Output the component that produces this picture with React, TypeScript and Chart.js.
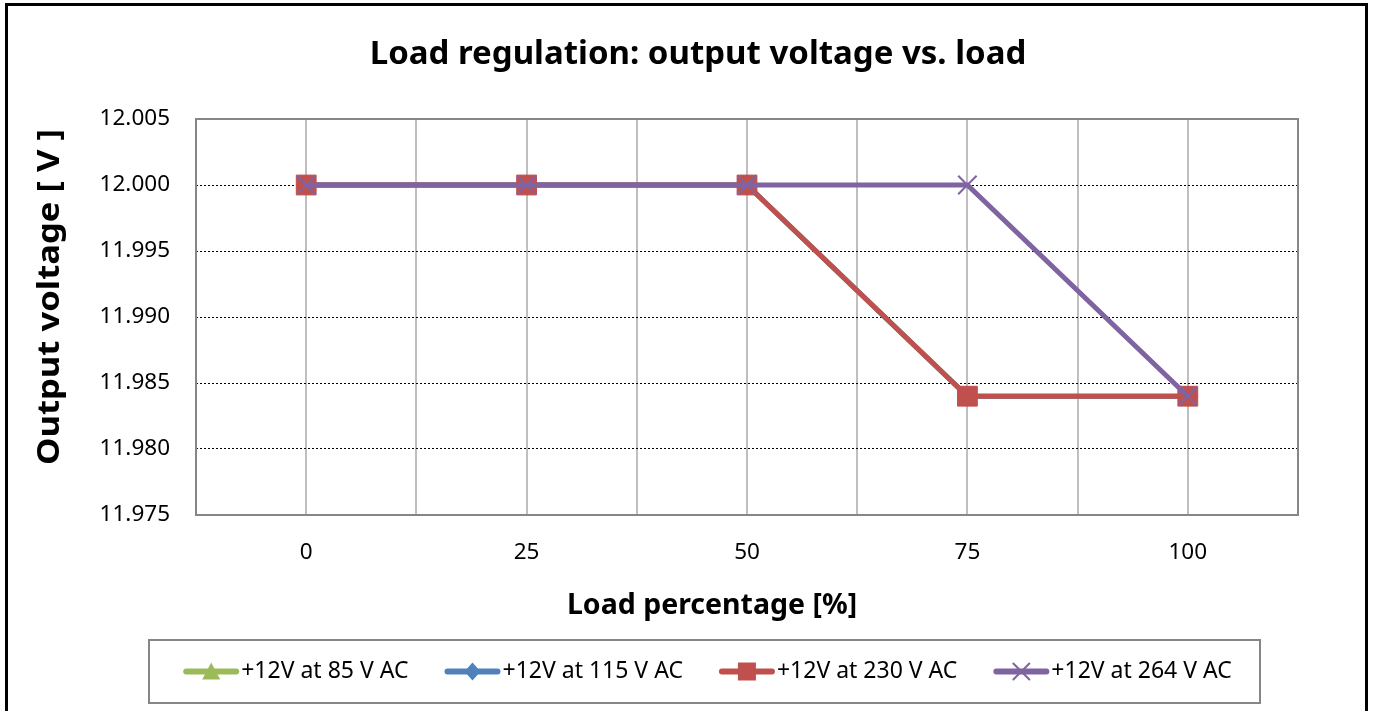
import React, { useEffect, useRef } from 'react';
import { Chart, registerables } from 'chart.js';

Chart.register(...registerables);

// ---- data ----
const loadPercent = [0, 25, 50, 75, 100];
const volt85 = [12.0, 12.0, 12.0, 11.984, 11.984];
const volt115 = [12.0, 12.0, 12.0, 11.984, 11.984];
const volt230 = [12.0, 12.0, 12.0, 11.984, 11.984];
const volt264 = [12.0, 12.0, 12.0, 12.0, 11.984];
const seriesLabels = ['+12V at 85 V AC', '+12V at 115 V AC', '+12V at 230 V AC', '+12V at 264 V AC'];
const seriesColors = ['#9bbb59', '#4f81bd', '#c0504d', '#8064a2'];
const seriesMarkers = ['triangle', 'rectRot', 'rect', 'crossRot'];
const labeledXTicks = [0, 25, 50, 75, 100];
const yMin = 11.975;
const yMax = 12.005;
const yStep = 0.005;
const xMin = -12.5;
const xMax = 112.5;
const xStep = 12.5;

const chartTitle = 'Load regulation: output voltage vs. load';
const xTitle = 'Load percentage [%]';
const yTitle = 'Output voltage [ V ]';

const FONT = '"Noto Sans", sans-serif';

function drawMarker(ctx: CanvasRenderingContext2D, style: string, x: number, y: number, color: string) {
  ctx.save();
  ctx.fillStyle = color;
  ctx.strokeStyle = color;
  ctx.beginPath();
  if (style === 'triangle') {
    ctx.moveTo(x, y - 9);
    ctx.lineTo(x + 9, y + 8);
    ctx.lineTo(x - 9, y + 8);
    ctx.closePath();
    ctx.fill();
  } else if (style === 'rectRot') {
    ctx.moveTo(x, y - 9);
    ctx.lineTo(x + 8, y);
    ctx.lineTo(x, y + 9);
    ctx.lineTo(x - 8, y);
    ctx.closePath();
    ctx.fill();
  } else if (style === 'rect') {
    ctx.rect(x - 9, y - 9, 18, 18);
    ctx.fill();
  } else {
    ctx.lineWidth = 2;
    ctx.moveTo(x - 8, y - 8);
    ctx.lineTo(x + 8, y + 8);
    ctx.moveTo(x + 8, y - 8);
    ctx.lineTo(x - 8, y + 8);
    ctx.stroke();
  }
  ctx.restore();
}

const decorPlugin = {
  id: 'decor',
  beforeDraw(chart: any) {
    const ctx = chart.ctx as CanvasRenderingContext2D;
    ctx.save();
    ctx.fillStyle = '#ffffff';
    ctx.fillRect(0, 0, chart.width, chart.height);
    ctx.restore();
  },
  beforeDatasetsDraw(chart: any) {
    const ctx = chart.ctx as CanvasRenderingContext2D;
    const a = chart.chartArea;
    ctx.save();
    ctx.strokeStyle = '#868686';
    ctx.lineWidth = 2;
    ctx.strokeRect(a.left, a.top, a.right - a.left, a.bottom - a.top);
    ctx.restore();
  },
  afterDraw(chart: any) {
    const ctx = chart.ctx as CanvasRenderingContext2D;
    ctx.save();
    // outer frame
    ctx.strokeStyle = '#000';
    ctx.lineWidth = 3;
    ctx.strokeRect(6.5, 4.5, 1360, 760);

    // titles
    ctx.fillStyle = '#000';
    ctx.textAlign = 'center';
    ctx.textBaseline = 'middle';
    ctx.font = `bold 33px ${FONT}`;
    ctx.fillText(chartTitle, 698, 55);
    ctx.font = `bold 28.5px ${FONT}`;
    ctx.fillText(xTitle, 712, 606);
    ctx.save();
    ctx.translate(50, 297);
    ctx.rotate(-Math.PI / 2);
    ctx.font = `bold 31px ${FONT}`;
    const tw = ctx.measureText(yTitle).width;
    const targetW = 336;
    ctx.scale(targetW / tw, 1);
    ctx.fillText(yTitle, 0, 0);
    ctx.restore();

    // legend
    const boxL = 149, boxT = 640, boxR = 1260, boxB = 703;
    ctx.strokeStyle = '#868686';
    ctx.lineWidth = 2;
    ctx.strokeRect(boxL, boxT, boxR - boxL, boxB - boxT);
    ctx.font = `23px ${FONT}`;
    const lineLen = 56, textGap = 2, itemGap = 36;
    const widths = seriesLabels.map((l) => ctx.measureText(l).width);
    const total = widths.reduce((s, w) => s + lineLen + textGap + w, 0) + itemGap * (seriesLabels.length - 1);
    let x = (boxL + boxR) / 2 + 3 - total / 2;
    const cy = (boxT + boxB) / 2;
    seriesLabels.forEach((label, i) => {
      ctx.strokeStyle = seriesColors[i];
      ctx.lineWidth = 6;
      ctx.lineCap = 'round';
      ctx.beginPath();
      ctx.moveTo(x + 3, cy);
      ctx.lineTo(x + lineLen - 3, cy);
      ctx.stroke();
      drawMarker(ctx, seriesMarkers[i], x + lineLen / 2, cy, seriesColors[i]);
      ctx.fillStyle = '#000';
      ctx.textAlign = 'left';
      ctx.textBaseline = 'middle';
      ctx.fillText(label, x + lineLen + textGap, cy);
      x += lineLen + textGap + widths[i] + itemGap;
    });
    ctx.restore();
  },
};

export default function App() {
  const canvasRef = useRef<HTMLCanvasElement | null>(null);

  useEffect(() => {
    if (!canvasRef.current) return;
    const seriesValues = [volt85, volt115, volt230, volt264];
    const radii = [10, 10, 14, 13];
    const datasets = seriesValues.map((vals, i) => ({
      label: seriesLabels[i],
      data: vals.map((v, j) => ({ x: loadPercent[j], y: v })),
      borderColor: seriesColors[i],
      backgroundColor: seriesColors[i],
      borderWidth: 5,
      pointStyle: seriesMarkers[i] as any,
      pointRadius: radii[i],
      pointBackgroundColor: seriesColors[i],
      pointBorderColor: seriesColors[i],
      pointBorderWidth: i === 3 ? 2 : 1,
      tension: 0,
      fill: false,
      order: seriesValues.length - 1 - i,
    }));

    const isEdgeY = (v: number) => Math.abs(v - yMin) < 1e-9 || Math.abs(v - yMax) < 1e-9;

    const chart = new Chart(canvasRef.current, {
      type: 'line',
      data: { datasets },
      options: {
        animation: false,
        responsive: true,
        maintainAspectRatio: false,
        layout: { padding: { left: 96, right: 75, top: 119, bottom: 136 } },
        plugins: {
          legend: { display: false },
          title: { display: false },
          tooltip: { enabled: false },
        },
        scales: {
          x: {
            type: 'linear',
            min: xMin,
            max: xMax,
            afterFit: (s: any) => { s.height = 60; },
            ticks: {
              stepSize: xStep,
              autoSkip: false,
              maxRotation: 0,
              padding: 24,
              color: '#000',
              font: { family: FONT, size: 22.5 },
              callback: (v: any) => (labeledXTicks.includes(Number(v)) ? String(v) : ''),
            },
            grid: { color: '#bfbfbf', lineWidth: 2, drawTicks: false },
            border: { display: false },
          },
          y: {
            type: 'linear',
            min: yMin,
            max: yMax,
            afterFit: (s: any) => { s.width = 100; },
            ticks: {
              stepSize: yStep,
              padding: 26,
              color: '#000',
              font: { family: FONT, size: 22.5 },
              callback: (v: any) => Number(v).toFixed(3),
            },
            grid: {
              color: (c: any) => (c.tick && isEdgeY(c.tick.value) ? 'rgba(0,0,0,0)' : '#000'),
              lineWidth: 1,
              drawTicks: false,
            },
            border: { display: false, dash: [2, 2] },
          },
        },
      },
      plugins: [decorPlugin],
    });
    return () => chart.destroy();
  }, []);

  return (
    <div style={{ position: 'fixed', left: 0, top: 0, width: 1373, height: 711, background: '#fff' }}>
      <canvas ref={canvasRef} />
    </div>
  );
}
